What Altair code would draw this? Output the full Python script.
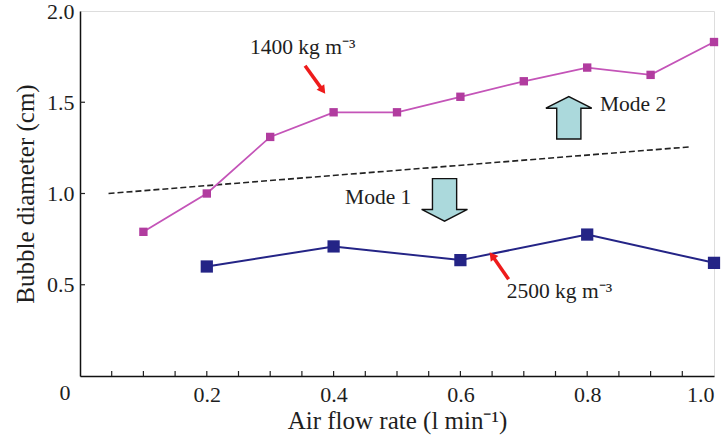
import altair as alt
import pandas as pd

# ---- data ----
flow_1400 = [0.1, 0.2, 0.3, 0.4, 0.5, 0.6, 0.7, 0.8, 0.9, 1.0]
diam_1400 = [0.79, 1.00, 1.31, 1.445, 1.445, 1.53, 1.615, 1.69, 1.65, 1.83]

flow_2500 = [0.2, 0.4, 0.6, 0.8, 1.0]
diam_2500 = [0.60, 0.71, 0.635, 0.775, 0.62]

boundary_x = [0.045, 0.96]
boundary_y = [1.00, 1.255]

# red pointer arrows (tail -> head)
ptr_x = [0.355, 0.676]
ptr_y = [1.70, 0.53]
ptr_x2 = [0.383, 0.650]
ptr_y2 = [1.565, 0.66]
ptr_angle = [144, 323]

# block arrows for the modes
mode_arrow_x = [0.771, 0.575]
mode_arrow_y = [1.415, 0.965]
mode_arrow_angle = [0, 180]

note_text = ["1400 kg m\u207b\u00b3", "2500 kg m\u207b\u00b3", "Mode 2", "Mode 1"]
note_x = [0.268, 0.673, 0.820, 0.418]
note_y = [1.80, 0.46, 1.485, 0.975]

x_ticks = [0.2, 0.4, 0.6, 0.8, 1.0]
x_minor = [i / 20 for i in range(1, 20)]
y_ticks = [0.5, 1.0, 1.5, 2.0]

FONT = "Liberation Serif, Times New Roman, Times, serif"
MAGENTA = "#c454b8"
MAGENTA_PT = "#b13c9f"
NAVY = "#242486"
TXT = "#1e1e1e"

W, H = 634, 365

xs = alt.Scale(domain=[0, 1.0], nice=False, zero=False)
ys = alt.Scale(domain=[0, 2.0], nice=False, zero=False)

df1400 = pd.DataFrame({"x": flow_1400, "y": diam_1400})
df2500 = pd.DataFrame({"x": flow_2500, "y": diam_2500})
dfb = pd.DataFrame({"x": boundary_x, "y": boundary_y})
dfp = pd.DataFrame({"x": ptr_x, "y": ptr_y, "x2": ptr_x2, "y2": ptr_y2, "a": ptr_angle})
dfm = pd.DataFrame({"x": mode_arrow_x, "y": mode_arrow_y, "a": mode_arrow_angle})
dfn = pd.DataFrame({"t": note_text, "x": note_x, "y": note_y})
dfxt = pd.DataFrame({"x": x_minor})
dfyt = pd.DataFrame({"y": y_ticks[:-1]})

base_x = alt.X(
    "x:Q", scale=xs,
    axis=alt.Axis(
        values=x_ticks, format=".1f", tickSize=0, labelPadding=8,
        labelFont=FONT, labelFontSize=22, labelColor=TXT, labelFontWeight="normal",
        title="Air flow rate (l min\u207b\u00b9)", titleFont=FONT, titleFontSize=25,
        titleFontWeight="normal", titleColor=TXT, titlePadding=3,
        grid=False, domainColor="#111", domainWidth=1.5,
    ),
)
base_y = alt.Y(
    "y:Q", scale=ys,
    axis=alt.Axis(
        values=y_ticks, format=".1f", tickSize=0, labelPadding=6,
        labelFont=FONT, labelFontSize=22, labelColor=TXT, labelFontWeight="normal",
        title="Bubble diameter (cm)", titleFont=FONT, titleFontSize=25,
        titleFontWeight="normal", titleColor=TXT, titlePadding=8,
        grid=False, domainColor="#111", domainWidth=1.5,
    ),
)

line1400 = alt.Chart(df1400).mark_line(color=MAGENTA, strokeWidth=1.8).encode(x=base_x, y=base_y)
pts1400 = alt.Chart(df1400).mark_point(shape="square", filled=True, size=70, color=MAGENTA_PT, opacity=1).encode(
    x=alt.X("x:Q", scale=xs), y=alt.Y("y:Q", scale=ys))

line2500 = alt.Chart(df2500).mark_line(color=NAVY, strokeWidth=2).encode(
    x=alt.X("x:Q", scale=xs), y=alt.Y("y:Q", scale=ys))
pts2500 = alt.Chart(df2500).mark_point(shape="square", filled=True, size=150, color=NAVY, opacity=1).encode(
    x=alt.X("x:Q", scale=xs), y=alt.Y("y:Q", scale=ys))

boundary = alt.Chart(dfb).mark_line(color="#222", strokeWidth=1.6, strokeDash=[6, 3]).encode(
    x=alt.X("x:Q", scale=xs), y=alt.Y("y:Q", scale=ys))

ptr_shaft = alt.Chart(dfp).mark_rule(color="#ee1b1b", strokeWidth=3.5).encode(
    x=alt.X("x:Q", scale=xs), y=alt.Y("y:Q", scale=ys), x2="x2:Q", y2="y2:Q")
ptr_head = alt.Chart(dfp).mark_point(shape="triangle-up", filled=True, size=90, color="#ee1b1b", opacity=1).encode(
    x=alt.X("x2:Q", scale=xs), y=alt.Y("y2:Q", scale=ys), angle=alt.Angle("a:Q", scale=None))

arrow_path = "M -0.57 1 L -0.57 -0.45 L -1.08 -0.45 L 0 -1 L 1.08 -0.45 L 0.57 -0.45 L 0.57 1 Z"
mode_arrows = alt.Chart(dfm).mark_point(
    shape=arrow_path, filled=True, size=1800, fill="#abd9dc", stroke="#111", strokeWidth=1.4, opacity=1
).encode(x=alt.X("x:Q", scale=xs), y=alt.Y("y:Q", scale=ys), angle=alt.Angle("a:Q", scale=None))

notes = alt.Chart(dfn).mark_text(align="left", baseline="middle", font=FONT, fontSize=21.5, color=TXT).encode(
    x=alt.X("x:Q", scale=xs), y=alt.Y("y:Q", scale=ys), text="t:N")

xticks = alt.Chart(dfxt).mark_rule(color="#222", strokeWidth=1.2).encode(
    x=alt.X("x:Q", scale=xs), y=alt.value(H), y2=alt.value(H - 5))
yticks = alt.Chart(dfyt).mark_rule(color="#222", strokeWidth=1.2).encode(
    y=alt.Y("y:Q", scale=ys), x=alt.value(0), x2=alt.value(5))

origin = alt.Chart(pd.DataFrame({"t": ["0"]})).mark_text(
    font=FONT, fontSize=22, color=TXT, baseline="middle", align="center").encode(
    text="t:N", x=alt.value(-15), y=alt.value(H + 17))

chart = alt.layer(
    boundary, line1400, pts1400, line2500, pts2500,
    ptr_shaft, ptr_head, mode_arrows, notes, xticks, yticks, origin,
).properties(
    width=W, height=H,
    autosize=alt.AutoSizeParams(type="none"),
    padding={"left": 80, "top": 11, "right": 14, "bottom": 64},
).configure_view(stroke="#111", strokeWidth=1.5).configure(background="white", font=FONT)

chart.save("out.html", embed_options={"renderer": "svg", "actions": False})
